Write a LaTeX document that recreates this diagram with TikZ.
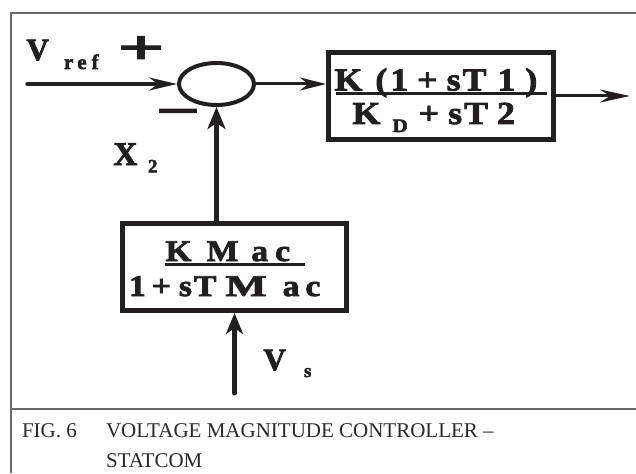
\documentclass[tikz,border=0pt]{standalone}
\usepackage{fontspec}
\setmainfont{Liberation Serif}
\newfontfamily\hb{Liberation Serif}[FakeBold=2.5]
\newfontfamily\hbw{Liberation Serif}[FakeBold=2.5, FakeStretch=1.12]
\usetikzlibrary{arrows.meta,shapes.geometric}
\definecolor{ink}{HTML}{231F20}
\definecolor{framec}{HTML}{6A6A6A}
\definecolor{capc}{HTML}{2A2A2A}
\newcommand\fsz[1]{\fontsize{#1}{#1}\selectfont}
\begin{document}
\begin{tikzpicture}[x=1pt,y=-1pt,
  lbl/.style={inner sep=0, outer sep=0, anchor=base west, text=ink},
  captext/.style={inner sep=0, outer sep=0, anchor=base west, text=capc, font=\fsz{21}},
  blk/.style={draw=ink, rectangle, line width=5, inner sep=0, minimum width=225, minimum height=87},
  sig/.style={draw=ink, line cap=round},
  fracbar/.style={draw=ink, line width=3},
  framel/.style={draw=framec, line width=1.8}]
\useasboundingbox (0,0) rectangle (636,473);
% frame
\draw[framel] (636,13) -| (11,473);
\draw[framel] (11,409) -- (636,409);
% blocks
\node[draw=ink, ellipse, line width=4, inner sep=0, minimum width=75, minimum height=42] (sum) at (216.5,84) {};
\node[blk] (box1) at (441,96) {};
\node[blk, minimum width=224] (box2) at (234.5,267) {};
% box1 texts
\node[lbl, font=\hbw\bfseries\fsz{32}] (n1) at (334.5,90.5) {K\kern13pt(\kern3pt1\kern9pt+\kern9pt s\kern2pt T\kern11pt1\kern10pt)};
\draw[fracbar] (336,94) -- (547,94);
\node[lbl, font=\hbw\bfseries\fsz{32}] (d1) at (352.5,124) {K\kern12pt\raisebox{-8pt}{\fsz{19}D}\kern11pt+\kern9pt s\kern2pt T\kern9pt2};
% box2 texts
\node[lbl, font=\hbw\bfseries\fsz{30}] (n2) at (165.5,261) {K\kern15pt M\kern13pt a\kern7pt c};
\draw[fracbar] (165,264) -- (305,264);
\node[lbl, font=\hbw\bfseries\fsz{30}] (d2) at (129,296) {1\kern6pt+\kern8pt s\kern2pt T\kern9pt\scalebox{1.3}[1]{M}\kern16pt a\kern6pt c};
% labels
\node[lbl, font=\hb\bfseries\fsz{31}] (vref) at (26.5,60) {V};
\node[lbl, font=\hb\bfseries\fsz{21}] (ref) at (64,69) {r\kern4pt e\kern5pt f};
\node[inner sep=0, text=ink] (plus) at (141,50) {\fsz{48}\hb\bfseries\scalebox{1.7}[1]{+}};
\node[inner sep=0, text=ink] (minus) at (178,118) {\fsz{48}\hb\bfseries\scalebox{1.6}[1]{−}};
\node[lbl, font=\hb\bfseries\fsz{33}] (x) at (113.5,165) {X};
\node[lbl, font=\hb\bfseries\fsz{19}] (x2) at (148,172.5) {2};
\node[lbl, font=\hb\bfseries\fsz{31}] (vs) at (263.5,370) {V};
\node[lbl, font=\hb\bfseries\fsz{19}] (vss) at (304,377) {s};
% connectors
\coordinate (in) at (27,84);
\coordinate (out) at (630,96);
\coordinate (vs0) at (234.5,393);
\draw[sig, line width=3.5, -{Stealth[length=28pt,width=13pt,inset=9pt]}] (in) -- (sum.west);
\draw[sig, line width=3, -{Stealth[length=26pt,width=13pt,inset=8pt]}] (sum.east) -- (sum.east -| box1.west);
\draw[sig, line width=3, -{Stealth[length=30pt,width=13pt,inset=10pt]}] (box1.east) -- (out);
\draw[sig, line width=5, -{Stealth[length=22pt,width=18pt,inset=6pt]}] (box2.north -| sum.south) -- (sum.south);
\draw[sig, line width=5, -{Stealth[length=21pt,width=17pt,inset=6pt]}] (vs0) -- (box2.south);
% caption
\node[captext] (fig) at (22,437) {FIG. 6};
\node[captext] (t1) at (106,437) {VOLTAGE MAGNITUDE CONTROLLER –};
\node[captext] (t2) at (106,467) {STATCOM};
\end{tikzpicture}
\end{document}
